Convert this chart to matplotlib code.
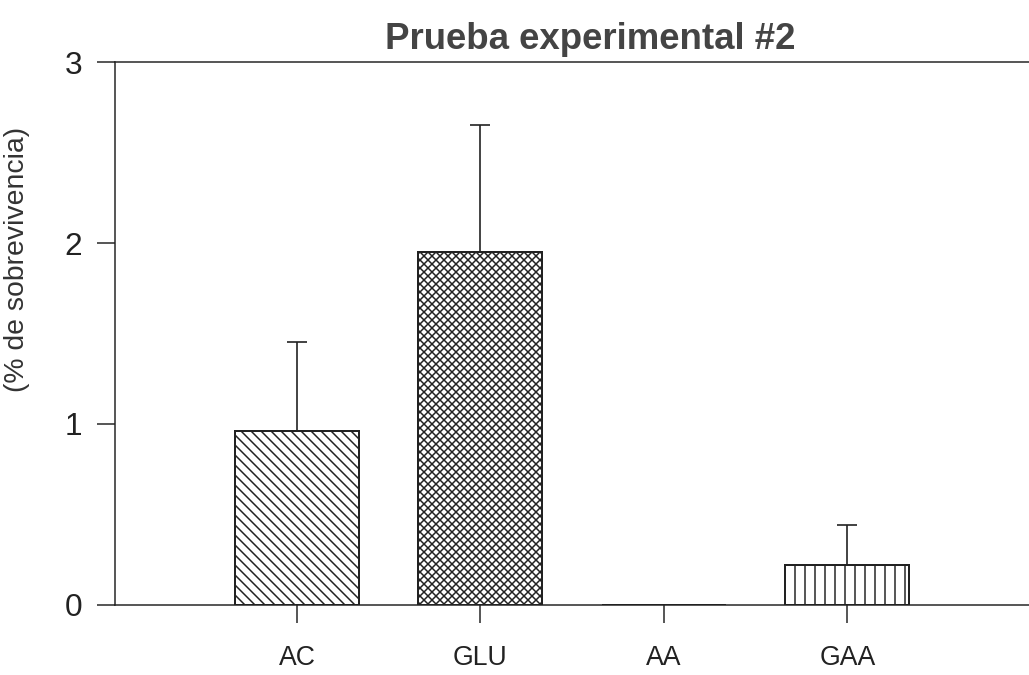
import matplotlib
matplotlib.use("Agg")
import matplotlib.pyplot as plt

plt.rcParams['font.family'] = ['Liberation Sans', 'DejaVu Sans']
plt.rcParams['hatch.linewidth'] = 0.9

categories = ["AC", "GLU", "AA", "GAA"]
values = [0.96, 1.95, 0.0, 0.22]
errors = [0.49, 0.70, 0.0, 0.22]
hatches = ['\\\\\\\\', 'xxxxx', '', '||']

fig = plt.figure(figsize=(1029 / 120, 675 / 120), dpi=120)
ax = fig.add_axes([0.112, 0.104, 0.888, 0.804])

x = list(range(len(categories)))
for i in x:
    ax.bar(i, values[i], width=0.675, color='white', edgecolor='#222222',
           linewidth=1.2, hatch=hatches[i], zorder=2)
    if errors[i] > 0:
        ax.errorbar(i, values[i], yerr=[[0], [errors[i]]], fmt='none',
                    ecolor='#222222', elinewidth=1.0, capsize=6,
                    capthick=1.0, zorder=3)

ax.set_xlim(-0.99, 3.99)
ax.set_ylim(0, 3)
ax.set_yticks([0, 1, 2, 3])
ax.set_xticks(x)
ax.set_xticklabels(categories, fontsize=16, color='#222222')
ax.tick_params(axis='y', labelsize=19, length=11, width=0.9, pad=9,
               colors='#222222')
ax.tick_params(axis='x', length=11, width=0.9, pad=13, colors='#222222')

for s in ['left', 'top', 'bottom']:
    ax.spines[s].set_linewidth(0.9)
    ax.spines[s].set_color('#222222')
ax.spines['right'].set_visible(False)

ax.set_ylabel("(% de sobrevivencia)", fontsize=17, color='#333333')
ax.yaxis.set_label_coords(-0.093, 0.637)
fig.text(0.574, 0.942, "Prueba experimental #2", fontsize=22,
         fontweight='bold', color='#444444', ha='center', va='center')

fig.savefig("out.png", dpi=120)
